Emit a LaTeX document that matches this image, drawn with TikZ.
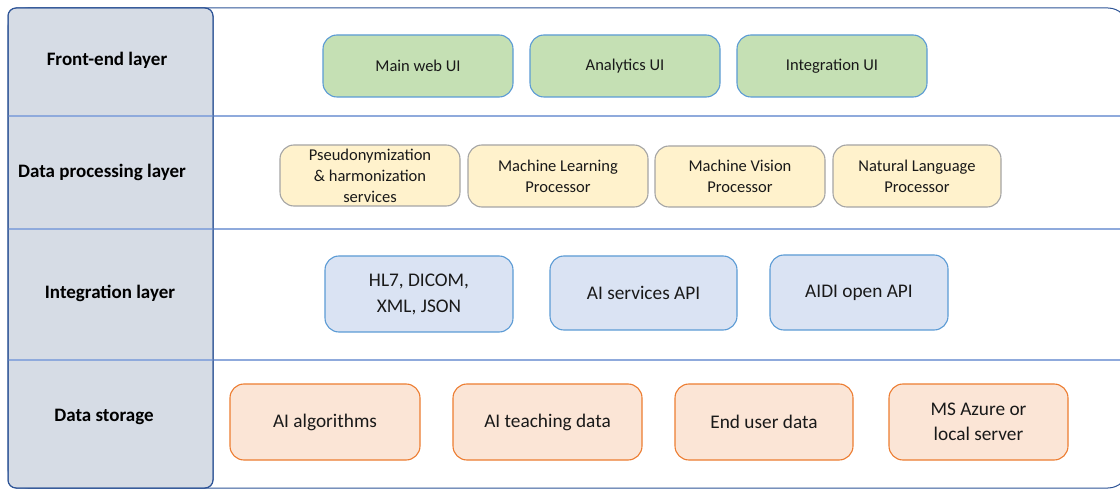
\documentclass[tikz,border=0pt]{standalone}
\usepackage{fontspec}
\setmainfont{Carlito}
\definecolor{colborder}{HTML}{2F5597}
\definecolor{colside}{HTML}{D6DCE5}
\definecolor{colsep}{HTML}{8FAADC}
\definecolor{gfill}{HTML}{C5E0B4}
\definecolor{bline}{HTML}{5B9BD5}
\definecolor{yfill}{HTML}{FFF2CC}
\definecolor{yline}{HTML}{A5A5A5}
\definecolor{bfill}{HTML}{DAE3F3}
\definecolor{ofill}{HTML}{FBE5D6}
\definecolor{oline}{HTML}{ED7D31}
\tikzset{
  box/.style={rounded corners=14pt, line width=1.1pt, align=center, inner sep=2pt, text=black!90},
  front/.style={box, fill=gfill, draw=bline, font=\fontsize{16.5}{20}\selectfont},
  proc/.style={box, fill=yfill, draw=yline, font=\fontsize{16.5}{21}\selectfont},
  integ/.style={box, fill=bfill, draw=bline, font=\fontsize{19.3}{26}\selectfont},
  stor/.style={box, fill=ofill, draw=oline, font=\fontsize{19.3}{25}\selectfont},
  layerlbl/.style={font=\bfseries\fontsize{19}{22}\selectfont, align=center},
}
\newcommand{\bx}[7]{% name, style, x1, y1, x2, y2, text
  \node[#2, minimum width=#5pt-#3pt, minimum height=#6pt-#4pt] (#1) at ({(#3+#5)/2*1pt}, {-(#4+#6)/2*1pt}) {#7};}
\begin{document}
\begin{tikzpicture}[x=1pt,y=-1pt]
\useasboundingbox (0,0) rectangle (1120,489);
\begin{scope}
\clip (0,0) rectangle (1120,489);
\draw[colborder, line width=1pt, rounded corners=20pt, fill=white] (8,8) rectangle (1128,488);
\end{scope}
\draw[colborder, line width=1pt, fill=colside, rounded corners=8pt] (8,8) rectangle (213,488);
\foreach \yy in {116,229,360}{
  \draw[colsep, line width=1.2pt] (8,\yy) -- (1120,\yy);
}
\draw[colborder, line width=1pt, rounded corners=8pt] (8,8) rectangle (213,488);

\node[layerlbl] (l1) at (107,60) {Front-end layer};
\node[layerlbl] (l2) at (102,172) {Data processing layer};
\node[layerlbl] (l3) at (110,293) {Integration layer};
\node[layerlbl] (l4) at (104,417) {Data storage};

\bx{f1}{front}{323}{35}{513}{97}{Main web UI}
\bx{f2}{front}{530}{35}{720}{97}{Analytics UI}
\bx{f3}{front}{737}{35}{927}{97}{Integration UI}

\bx{p1}{proc}{280}{145}{460}{206}{Pseudonymization\\\& harmonization\\services}
\bx{p2}{proc}{468}{145}{648}{207}{Machine Learning\\Processor}
\bx{p3}{proc}{655}{146}{825}{207}{Machine Vision\\Processor}
\bx{p4}{proc}{833}{145}{1001}{207}{Natural Language\\Processor}

\bx{i1}{integ}{325}{256}{513}{332}{HL7, DICOM,\\XML, JSON}
\bx{i2}{integ}{550}{256}{737}{330}{AI services API}
\bx{i3}{integ}{770}{255}{948}{330}{AIDI open API}

\bx{s1}{stor}{230}{384}{420}{460}{AI algorithms}
\bx{s2}{stor}{453}{384}{642}{460}{AI teaching data}
\bx{s3}{stor}{675}{384}{853}{460}{End user data}
\bx{s4}{stor}{889}{384}{1068}{460}{MS Azure or\\local server}
\end{tikzpicture}
\end{document}
